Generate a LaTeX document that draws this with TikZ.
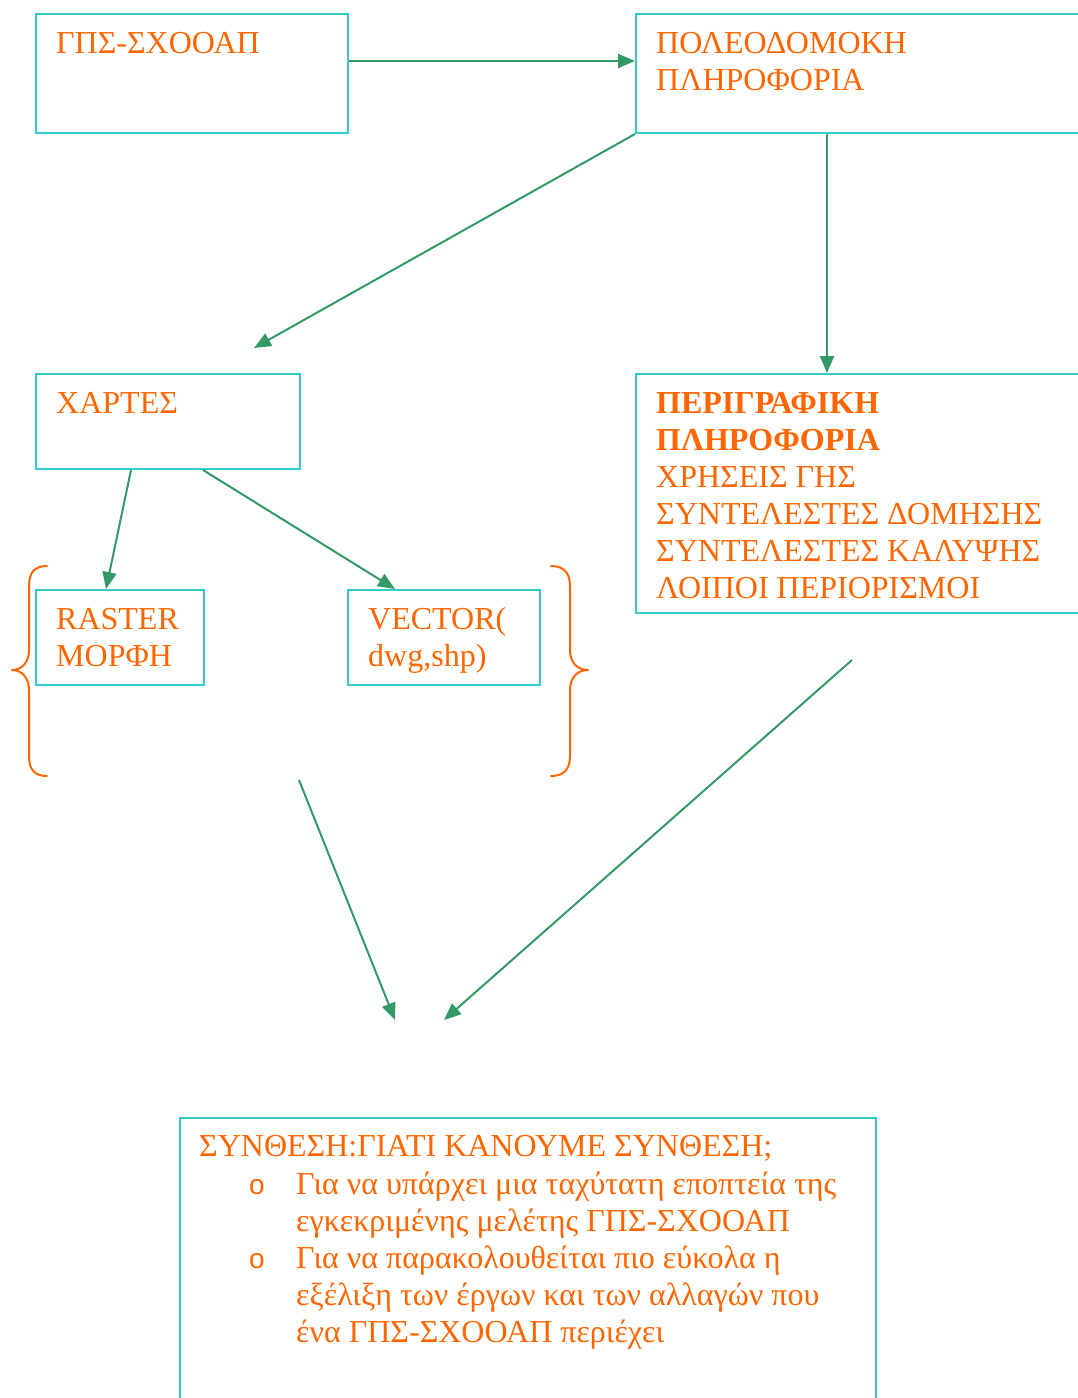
\documentclass[tikz,border=0pt]{standalone}
\usepackage{fontspec}
\setmainfont{Liberation Serif}
\newfontfamily\bulletfont{Liberation Sans}
\usetikzlibrary{arrows.meta,calc}
\definecolor{boxcol}{HTML}{33CCCC}
\definecolor{txtcol}{HTML}{FF6600}
\definecolor{arrcol}{HTML}{339966}
\newcommand{\mylines}[1]{\begin{tabular}[t]{@{}l@{}}#1\end{tabular}}
\begin{document}
\begin{tikzpicture}[x=1pt,y=-1pt,
  box/.style={draw=boxcol,line width=2pt,rectangle,inner sep=0pt,anchor=north west},
  txt/.style={text=txtcol,inner sep=0pt,anchor=base west,font=\fontsize{32}{37}\selectfont},
  conn/.style={draw=arrcol,line width=2pt,-{Triangle[length=17pt,width=14pt]}},
  brace/.style={draw=txtcol,line width=2pt,line join=round,line cap=round}]
\useasboundingbox (0,0) rectangle (1078,1398);
\clip (0,0) rectangle (1078,1398);
% boxes
\node[box,minimum width=312pt,minimum height=119pt] (a) at (35,13) {};
\node[box,minimum width=460pt,minimum height=119pt] (b) at (635,13) {};
\node[box,minimum width=264pt,minimum height=95pt] (c) at (35,373) {};
\node[box,minimum width=460pt,minimum height=239pt] (d) at (635,373) {};
\node[box,minimum width=168pt,minimum height=95pt] (e) at (35,589) {};
\node[box,minimum width=192pt,minimum height=95pt] (f) at (347,589) {};
\node[box,minimum width=696pt,minimum height=300pt] (g) at (179,1117) {};
% texts
\node[txt] (ta) at (56,53) {ΓΠΣ-ΣΧΟΟΑΠ};
\node[txt] (tb) at (656,53) {\mylines{ΠΟΛΕΟΔΟΜΟΚΗ\\ΠΛΗΡΟΦΟΡΙΑ}};
\node[txt] (tc) at (56,413) {ΧΑΡΤΕΣ};
\node[txt] (td) at (656,413) {\mylines{\textbf{ΠΕΡΙΓΡΑΦΙΚΗ}\\\textbf{ΠΛΗΡΟΦΟΡΙΑ}\\ΧΡΗΣΕΙΣ ΓΗΣ\\ΣΥΝΤΕΛΕΣΤΕΣ ΔΟΜΗΣΗΣ\\ΣΥΝΤΕΛΕΣΤΕΣ ΚΑΛΥΨΗΣ\\ΛΟΙΠΟΙ ΠΕΡΙΟΡΙΣΜΟΙ}};
\node[txt] (te) at (56,629) {\mylines{RASTER\\ΜΟΡΦΗ}};
\node[txt] (tf) at (368,629) {\mylines{VECTOR(\\dwg,shp)}};
\node[txt] (tg) at (199,1156) {ΣΥΝΘΕΣΗ:ΓΙΑΤΙ ΚΑΝΟΥΜΕ ΣΥΝΘΕΣΗ;};
\node[txt,font=\bulletfont\fontsize{28}{37}\selectfont] (bu1) at (249,1194) {o};
\node[txt,font=\bulletfont\fontsize{28}{37}\selectfont] (bu2) at (249,1268) {o};
\node[txt] (tg1) at (296,1194) {\mylines{Για να υπάρχει μια ταχύτατη εποπτεία της\\εγκεκριμένης μελέτης ΓΠΣ-ΣΧΟΟΑΠ}};
\node[txt] (tg2) at (296,1268) {\mylines{Για να παρακολουθείται πιο εύκολα η\\εξέλιξη των έργων και των αλλαγών που\\ένα ΓΠΣ-ΣΧΟΟΑΠ περιέχει}};
% connectors
\draw[conn] ($(a.north east)+(0,48)$) -- ($(b.north west)+(0,48)$);
\draw[conn] (b.south west) -- ($(c.north east)+(-47,-25)$);
\draw[conn] ($(b.south west)+(192,0)$) -- ($(d.north west)+(192,0)$);
\draw[conn] ($(c.south west)+(96,0)$) -- ($(e.north west)+(71,0)$);
\draw[conn] ($(c.south west)+(168,0)$) -- ($(f.north west)+(48,0)$);
\coordinate (s1) at (299,780);
\coordinate (e1) at (395,1020);
\coordinate (s2) at (852,660);
\coordinate (e2) at (444,1020);
\draw[conn] (s1) -- (e1);
\draw[conn] (s2) -- (e2);
% braces
\draw[brace] (47,566) .. controls (35,566) and (29,572) .. (29,586) -- (29,650)
  .. controls (29,662) and (22,670) .. (12,670)
  .. controls (22,670) and (29,678) .. (29,690) -- (29,756)
  .. controls (29,770) and (35,776) .. (47,776);
\draw[brace] (551,566) .. controls (563,566) and (570,572) .. (570,586) -- (570,650)
  .. controls (570,662) and (577,670) .. (588,670)
  .. controls (577,670) and (570,678) .. (570,690) -- (570,756)
  .. controls (570,770) and (563,776) .. (551,776);
\end{tikzpicture}
\end{document}
